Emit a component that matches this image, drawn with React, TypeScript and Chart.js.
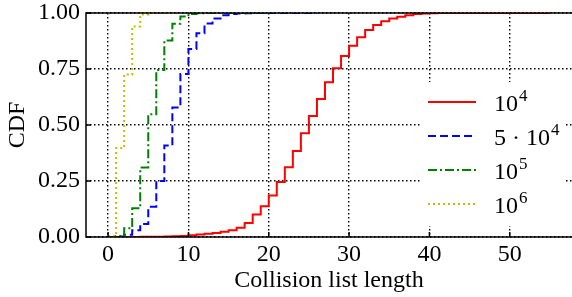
import React, { useEffect, useRef } from "react";
import { Chart, registerables } from "chart.js";

Chart.register(...registerables);

const FONT = "'Liberation Serif', 'DejaVu Serif', serif";
const FS = 24;

const xTicks = [0, 10, 20, 30, 40, 50];
const yTicks = [0, 0.25, 0.5, 0.75, 1];
const yTickLabels = ["0.00", "0.25", "0.50", "0.75", "1.00"];
const seriesLabels = ["10⁴", "5 · 10⁴", "10⁵", "10⁶"];
const seriesColors = ["#ff0000", "#0000ff", "#008000", "#bfbf00"];

// CDF values at collision list length 0, 1, 2, ...
const cdf1e4 = [
  0, 0, 0, 0.0003, 0.0006, 0.001, 0.0015, 0.002, 0.003, 0.005,
  0.008, 0.011, 0.014, 0.018, 0.023, 0.03, 0.041, 0.063, 0.1, 0.137,
  0.185, 0.245, 0.311, 0.384, 0.463, 0.54, 0.616, 0.691, 0.753, 0.808,
  0.854, 0.892, 0.924, 0.946, 0.963, 0.975, 0.983, 0.99, 0.995, 0.998,
  0.999, 1, 1, 1, 1, 1, 1, 1, 1, 1,
  1, 1, 1, 1, 1, 1,
];
const cdf5e4 = [
  0, 0.002, 0.01, 0.03, 0.058, 0.135, 0.25, 0.408, 0.578, 0.728,
  0.839, 0.91, 0.953, 0.976, 0.99, 0.995, 0.998, 0.999, 1, 1,
  1, 1, 1, 1, 1, 1, 1,
];
const cdf1e5 = [
  0, 0.004, 0.039, 0.128, 0.31, 0.548, 0.745, 0.877, 0.952, 0.984,
  0.996, 0.999, 1, 1, 1, 1, 1, 1, 1, 1, 1,
];
const cdf1e6 = [0.005, 0.397, 0.725, 0.94, 0.993, 1, 1, 1, 1, 1];

const seriesValues = [cdf1e4, cdf5e4, cdf1e5, cdf1e6];
const seriesDash = [[], [8, 4], [9, 3, 2, 3], [2, 3]];

const SUP: Record<string, string> = {
  "⁰": "0", "¹": "1", "²": "2", "³": "3", "⁴": "4",
  "⁵": "5", "⁶": "6", "⁷": "7", "⁸": "8", "⁹": "9",
};

function drawRichLabel(ctx: CanvasRenderingContext2D, text: string, x: number, baseline: number) {
  let cx = x;
  ctx.textBaseline = "alphabetic";
  ctx.textAlign = "left";
  for (const ch of text) {
    if (SUP[ch]) {
      ctx.font = `17px ${FONT}`;
      ctx.fillText(SUP[ch], cx + 1, baseline - 10);
      cx += ctx.measureText(SUP[ch]).width + 1;
    } else {
      ctx.font = `${FS}px ${FONT}`;
      ctx.fillText(ch, cx, baseline);
      cx += ctx.measureText(ch).width;
    }
  }
}

const framePlugin = {
  id: "frame",
  afterDatasetsDraw(chart: any) {
    const { ctx, chartArea, scales } = chart;
    const { left, right, top, bottom } = chartArea;
    ctx.save();
    ctx.setLineDash([]);
    ctx.strokeStyle = "#000";
    ctx.lineWidth = 1.5;
    ctx.beginPath();
    xTicks.forEach((v) => {
      const px = scales.x.getPixelForValue(v);
      ctx.moveTo(px, bottom);
      ctx.lineTo(px, bottom - 5);
    });
    yTicks.forEach((v) => {
      const py = scales.y.getPixelForValue(v);
      ctx.moveTo(left, py);
      ctx.lineTo(left + 5, py);
    });
    ctx.stroke();
    ctx.beginPath();
    ctx.moveTo(right + 2, top);
    ctx.lineTo(left, top);
    ctx.lineTo(left, bottom);
    ctx.lineTo(right + 2, bottom);
    ctx.stroke();
    ctx.restore();
  },
};

const legendPlugin = {
  id: "innerLegend",
  afterDraw(chart: any) {
    const { ctx, chartArea } = chart;
    const boxW = 144;
    const boxH = 144;
    const bx = chartArea.right - 7 - boxW;
    const by = chartArea.bottom - 11 - boxH;
    ctx.save();
    ctx.fillStyle = "#fff";
    ctx.fillRect(bx, by, boxW, boxH);
    chart.data.datasets.forEach((ds: any, i: number) => {
      const cy = by + 20 + i * 34;
      ctx.strokeStyle = ds.borderColor;
      ctx.lineWidth = ds.borderWidth;
      ctx.setLineDash(ds.borderDash || []);
      ctx.beginPath();
      ctx.moveTo(bx + 7, cy);
      ctx.lineTo(bx + 55, cy);
      ctx.stroke();
      ctx.setLineDash([]);
      ctx.fillStyle = "#000";
      drawRichLabel(ctx, ds.label, bx + 73, cy + 9);
    });
    ctx.restore();
  },
};

export default function App() {
  const ref = useRef<HTMLCanvasElement | null>(null);

  useEffect(() => {
    if (!ref.current) return;
    const datasets = seriesValues.map((vals, i) => ({
      label: seriesLabels[i],
      data: vals.map((v, k) => ({ x: k, y: v })),
      borderColor: seriesColors[i],
      backgroundColor: seriesColors[i],
      borderWidth: 2,
      borderDash: seriesDash[i],
      stepped: true as const,
      pointRadius: 0,
      fill: false,
      order: 4 - i,
    }));
    const chart = new Chart(ref.current, {
      type: "line",
      data: { datasets },
      options: {
        animation: false,
        responsive: false,
        maintainAspectRatio: false,
        layout: { padding: { top: 13, left: 0, right: 0, bottom: 0 } },
        plugins: { legend: { display: false }, tooltip: { enabled: false } },
        scales: {
          x: {
            type: "linear",
            min: -2.75,
            max: 57.75,
            afterBuildTicks: (s: any) => {
              s.ticks = xTicks.map((v) => ({ value: v }));
            },
            afterFit: (s: any) => {
              s.height = 60;
              s.paddingLeft = 0;
              s.paddingRight = 0;
            },
            ticks: {
              font: { family: FONT, size: FS },
              color: "#000",
              padding: 3,
              maxRotation: 0,
              autoSkip: false,
              callback: (v: any) => String(v),
            },
            grid: { color: "#000", lineWidth: 1.4, drawTicks: false, tickLength: 0 },
            border: { display: false, dash: [1.5, 2.5] },
            title: {
              display: true,
              text: "Collision list length",
              font: { family: FONT, size: FS },
              color: "#000",
              padding: { top: 0, bottom: 2 },
            },
          },
          y: {
            type: "linear",
            min: 0,
            max: 1,
            afterBuildTicks: (s: any) => {
              s.ticks = yTicks.map((v) => ({ value: v }));
            },
            afterFit: (s: any) => {
              s.width = 86;
              s.paddingTop = 0;
              s.paddingBottom = 0;
            },
            ticks: {
              font: { family: FONT, size: FS },
              color: "#000",
              padding: 6,
              autoSkip: false,
              callback: (v: any) => yTickLabels[yTicks.indexOf(Number(v))] ?? "",
            },
            grid: { color: "#000", lineWidth: 1.4, drawTicks: false, tickLength: 0 },
            border: { display: false, dash: [1.5, 2.5] },
            title: {
              display: true,
              text: "CDF",
              font: { family: FONT, size: FS },
              color: "#000",
              padding: { top: 3, bottom: 0 },
            },
          },
        },
      },
      plugins: [framePlugin, legendPlugin],
    });
    return () => chart.destroy();
  }, []);

  return (
    <div style={{ position: "absolute", left: 0, top: 0, width: 572, height: 297, background: "#fff" }}>
      <canvas ref={ref} width={572} height={297} style={{ width: 572, height: 297, display: "block" }} />
    </div>
  );
}
